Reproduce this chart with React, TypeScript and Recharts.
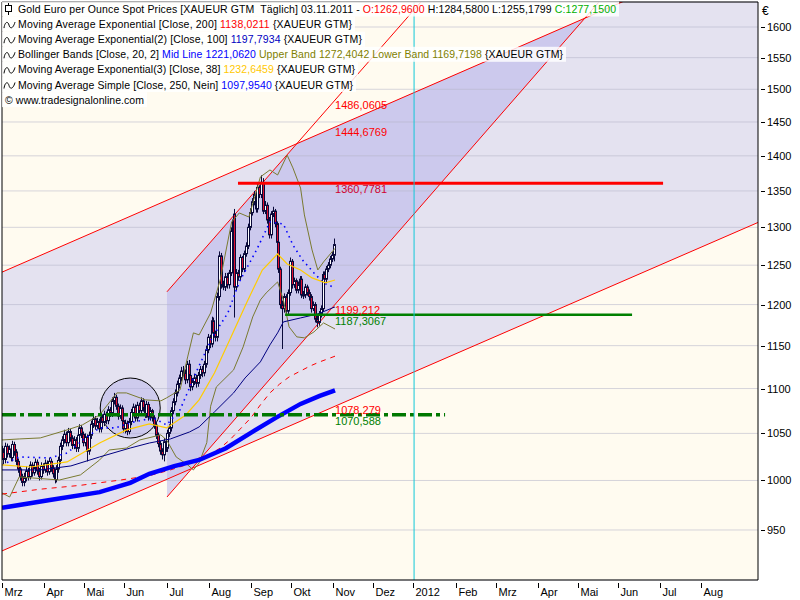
import React from 'react';
import {
  ComposedChart, Bar, Line, Area, XAxis, YAxis, CartesianGrid,
  ReferenceLine, ReferenceArea, ReferenceDot,
} from 'recharts';

// ---- daily candles (trading-day index 0 = 1 Mar 2011) ----
const opens = [
  1036,1030,1022,1036,1028,1033,1024,1038,1030,1020,
  1012,1004,998,1003,1010,1004,1016,1008,1013,1019,
  1010,1004,1015,1011,1018,1009,1020,1013,1007,1001,
  1012,1021,1036,1043,1049,1040,1052,1045,1037,1043,
  1034,1048,1056,1049,1040,1046,1031,1048,1060,1066,
  1058,1063,1055,1068,1062,1071,1064,1076,1072,1086,
  1090,1080,1069,1078,1064,1055,1061,1052,1063,1073,
  1079,1067,1081,1075,1086,1078,1071,1082,1068,1075,
  1067,1059,1048,1039,1031,1027,1041,1034,1050,1056,
  1075,1085,1095,1105,1112,1120,1118,1110,1128,1115,
  1102,1108,1112,1106,1115,1122,1118,1128,1145,1160,
  1152,1180,1165,1160,1210,1262,1225,1222,1235,1225,
  1240,1295,1318,1222,1240,1235,1260,1245,1265,1275,
  1300,1320,1335,1345,1325,1355,1345,1362,1322,1330,
  1310,1290,1318,1322,1305,1280,1245,1200,1195,1210,
  1192,1215,1255,1225,1230,1218,1225,1232,1212,1212,
  1222,1215,1210,1195,1200,1182,1178,1188,1195,1238,
  1232,1245,1250,1258,1263,
];
const highs = [
  1042,1034,1040,1039,1037,1036,1042,1041,1033,1023,
  1015,1007,1008,1015,1013,1020,1019,1017,1023,1022,
  1013,1019,1018,1022,1021,1024,1023,1016,1010,1016,
  1025,1040,1047,1054,1052,1056,1055,1048,1047,1046,
  1052,1060,1059,1052,1050,1049,1052,1064,1070,1069,
  1067,1066,1072,1071,1075,1074,1080,1079,1090,1095,
  1093,1083,1082,1081,1067,1065,1064,1067,1077,1083,
  1082,1085,1084,1090,1089,1081,1086,1085,1079,1077,
  1070,1062,1051,1042,1034,1045,1044,1054,1060,1079,
  1089,1099,1109,1116,1125,1126,1122,1132,1133,1119,
  1112,1117,1116,1119,1126,1126,1132,1150,1164,1163,
  1185,1184,1168,1215,1268,1266,1230,1240,1240,1244,
  1300,1316,1325,1245,1244,1264,1262,1269,1280,1305,
  1326,1340,1350,1350,1360,1358,1372,1368,1336,1334,
  1314,1322,1328,1325,1308,1283,1248,1205,1214,1213,
  1219,1260,1258,1234,1233,1229,1236,1236,1217,1226,
  1225,1219,1213,1204,1203,1186,1192,1199,1242,1242,
  1249,1254,1262,1267,1285,
];
const lows = [
  1025,1017,1018,1024,1024,1020,1020,1026,1016,1008,
  1000,994,994,999,1000,1001,1004,1005,1009,1006,
  1000,1001,1007,1008,1005,1006,1009,1003,997,998,
  1008,1017,1032,1039,1036,1036,1041,1033,1033,1030,
  1030,1044,1045,1036,1036,1020,1027,1044,1056,1054,
  1055,1051,1051,1058,1058,1060,1060,1068,1068,1082,
  1076,1065,1066,1060,1051,1050,1048,1049,1059,1069,
  1063,1063,1071,1071,1074,1067,1067,1064,1064,1063,
  1055,1044,1035,1027,1022,1020,1030,1030,1046,1052,
  1071,1081,1091,1100,1108,1114,1105,1106,1111,1097,
  1098,1104,1101,1102,1111,1113,1114,1124,1141,1147,
  1148,1160,1155,1155,1205,1220,1218,1217,1220,1220,
  1236,1290,1184,1218,1230,1231,1241,1241,1261,1271,
  1296,1316,1330,1320,1320,1340,1340,1318,1318,1305,
  1285,1285,1314,1300,1275,1240,1195,1146,1190,1188,
  1188,1211,1220,1221,1214,1214,1221,1208,1207,1208,
  1211,1205,1190,1192,1178,1172,1174,1184,1191,1228,
  1228,1241,1246,1254,1255,
];
const closes = [
  1030,1022,1036,1028,1033,1024,1038,1030,1020,1012,
  1004,998,1003,1010,1004,1016,1008,1013,1019,1010,
  1004,1015,1011,1018,1009,1020,1013,1007,1001,1012,
  1021,1036,1043,1049,1040,1052,1045,1037,1043,1034,
  1048,1056,1049,1040,1046,1031,1048,1060,1066,1058,
  1063,1055,1068,1062,1071,1064,1076,1072,1086,1090,
  1080,1069,1078,1064,1055,1061,1052,1063,1073,1079,
  1067,1081,1075,1086,1078,1071,1082,1068,1075,1067,
  1059,1048,1039,1031,1027,1041,1034,1050,1056,1075,
  1085,1095,1105,1112,1120,1118,1110,1128,1115,1102,
  1108,1112,1106,1115,1122,1118,1128,1145,1160,1152,
  1180,1165,1160,1210,1262,1225,1222,1235,1225,1240,
  1295,1310,1222,1240,1235,1260,1245,1265,1275,1300,
  1320,1335,1345,1325,1355,1345,1362,1322,1330,1310,
  1290,1318,1322,1305,1280,1245,1200,1195,1210,1192,
  1215,1255,1225,1230,1218,1225,1232,1212,1212,1222,
  1215,1210,1195,1200,1182,1178,1188,1195,1238,1232,
  1245,1250,1258,1263,1277,
];

// ---- axes ----
const monthTicks = [0, 22, 43, 64, 86, 108, 130, 151, 173, 194, 215, 237, 258, 280, 301, 322, 344, 365];
const monthLabels = ['Mrz', 'Apr', 'Mai', 'Jun', 'Jul', 'Aug', 'Sep', 'Okt', 'Nov', 'Dez', '2012', 'Feb', 'Mrz', 'Apr', 'Mai', 'Jun', 'Jul', 'Aug'];
const priceTicks = [950, 1000, 1050, 1100, 1150, 1200, 1250, 1300, 1350, 1400, 1450, 1500, 1550, 1600];
const dayDomain = [0, 395];
const priceDomain = [902, 1642];

// ---- indicators (sampled along the curve) ----
const sma250Days = [0, 25, 51, 67, 77, 90, 103, 117, 130, 143, 156, 166, 174];
const sma250Values = [972, 980, 988, 997.5, 1007, 1015, 1021.5, 1034, 1050.6, 1067, 1082.6, 1091.6, 1098];

const ema200Days = [0, 20, 41, 62, 77, 88, 98, 103, 109, 114, 119, 124, 130, 135, 140, 145, 150, 156, 161, 166, 174];
const ema200Values = [986, 991, 995, 1000.5, 1005, 1011, 1017.5, 1023.6, 1027.9, 1034.2, 1042.9, 1053.8, 1067, 1081.5, 1095, 1105, 1113.3, 1120.2, 1126, 1130.8, 1137.5];

const ema100Days = [0, 20, 36, 51, 67, 77, 88, 98, 103, 111, 121, 127, 135, 140, 144, 147, 156, 165, 174];
const ema100Values = [1011, 1011, 1015.2, 1024.7, 1034.2, 1039.6, 1044, 1051.6, 1057.1, 1073.6, 1095, 1112.1, 1130.8, 1150.9, 1165.3, 1178.6, 1183.5, 1188.4, 1197.1];

const ema38Days = [0, 15, 34, 51, 65, 77, 86, 96, 103, 111, 119, 128, 136, 144, 149, 156, 162, 169, 174];
const ema38Values = [1016.3, 1014.1, 1019.4, 1039.6, 1053.8, 1060.4, 1056, 1070.3, 1087.1, 1117.9, 1156.9, 1203.3, 1243.8, 1264.6, 1251.6, 1243.8, 1233.6, 1227.3, 1231];

const bbUpperDays = [0, 9, 20, 34, 42, 51, 60, 65, 75, 83, 86, 93, 97, 100, 103, 109, 114, 120, 124, 129, 135, 140, 144, 149, 152, 156, 158, 162, 165, 168, 174];
const bbUpperValues = [1042.9, 1044, 1045.1, 1053.8, 1059.3, 1070.3, 1095, 1095, 1087.1, 1086, 1089.4, 1098.4, 1136.6, 1165.3, 1162.9, 1189.6, 1231, 1307.3, 1319.5, 1314, 1369.7, 1379.7, 1372.5, 1401, 1382.6, 1354, 1316.8, 1269.9, 1243.8, 1254.2, 1272];

const bbLowerDays = [0, 4, 9, 16, 30, 41, 51, 56, 65, 72, 83, 86, 91, 97, 100, 103, 107, 109, 112, 121, 126, 131, 135, 138, 144, 147, 150, 154, 158, 163, 168, 174];
const bbLowerValues = [987.2, 983, 1003.7, 1002.6, 1000.5, 1005.8, 1021.5, 1032.1, 1034.2, 1042.9, 1048.4, 1042.9, 1024.7, 1016.3, 1011, 1018.4, 1040, 1080, 1101.8, 1121.4, 1148.5, 1184.7, 1205.8, 1214.5, 1228.5, 1205.8, 1172.6, 1160.5, 1159.3, 1166.5, 1177.4, 1170];

const bbMidDays = [0, 9, 25, 34, 41, 51, 59, 69, 79, 86, 93, 102, 110, 118, 124, 133, 140, 147, 152, 157, 163, 168, 174];
const bbMidValues = [1016.3, 1024.7, 1023.6, 1028.9, 1040.7, 1056, 1056, 1062.6, 1067, 1059.3, 1075.9, 1121.4, 1160.5, 1189.6, 1228.5, 1269.9, 1307.3, 1304.5, 1276.5, 1256.8, 1240, 1227.3, 1221];

// ---- drawn trend channels ----
const upperTrendDays = [0, 395];
const upperTrendValues = [1241, 1746];
const lowerTrendDays = [0, 395];
const lowerTrendValues = [929.6, 1306.6];
const steepLeftDays = [86.2, 218.9];
const steepLeftValues = [1216, 1642];
const steepRightDays = [86.2, 311.9];
const steepRightValues = [983, 1642];
const steepZoneDays = [86.2, 154.2, 304.6];
const steepZoneLow = [983, 1147.4, 1615];
const steepZoneHigh = [1216, 1418.2, 1615];

// ---- horizontal levels ----
const resistanceLevel = 1360.7781;
const resistanceDays = [123.3, 345.4];
const supportLevel = 1187.3067;
const supportDays = [147.9, 329.2];
const baseLevel = 1070.588;
const baseDays = [0, 231.5];
const yearLineDay = 215.3;
const circleDay = 67;
const circleValue = 1078;

const levelLabelTexts = ['1486,0605', '1444,6769', '1360,7781', '1199,212', '1187,3067', '1078,279', '1070,588'];
const levelLabelValues = [1475.8, 1435, 1352.8, 1192.7, 1179.2, 1075.9, 1063.6];
const levelLabelColors = ['#FF0000', '#FF0000', '#D00030', '#FF0000', '#008000', '#FF0000', '#008000'];
const levelLabelDay = 174;

// ---- legend text ----
const legendRows = [
  [['Gold Euro per Ounce Spot Prices [XAUEUR GTM  Täglich] 03.11.2011 - ', '#000'], ['O:1262,9600', '#FF0000'], [' H:1284,5800 L:1255,1799 ', '#000'], ['C:1277,1500', '#00B000']],
  [['Moving Average Exponential [Close, 200] ', '#000'], ['1138,0211', '#FF0000'], [' {XAUEUR GTM}', '#000']],
  [['Moving Average Exponential(2) [Close, 100] ', '#000'], ['1197,7934', '#0000C0'], [' {XAUEUR GTM}', '#000']],
  [['Bollinger Bands [Close, 20, 2] ', '#000'], ['Mid Line 1221,0620', '#0000FF'], [' Upper Band 1272,4042 Lower Band 1169,7198', '#808000'], [' {XAUEUR GTM}', '#000']],
  [['Moving Average Exponential(3) [Close, 38] ', '#000'], ['1232,6459', '#FFC800'], [' {XAUEUR GTM}', '#000']],
  [['Moving Average Simple [Close, 250, Nein] ', '#000'], ['1097,9540', '#0000FF'], [' {XAUEUR GTM}', '#000']],
  [['© www.tradesignalonline.com', '#000']],
];
const legendIcons = ['candle', 'wave', 'wave', 'wave', 'wave', 'wave', 'none'];
const legendTextStart = [18, 18, 18, 18, 18, 18, 5];
const legendTextEnd = [616, 352, 362, 563, 355, 353, 144];

const candleData = closes.map((c, i) => ({ t: i, open: opens[i], high: highs[i], low: lows[i], close: c }));
const series = (days: number[], values: number[]) => days.map((t, i) => ({ t, v: values[i] }));
const rangeSeries = (days: number[], lo: number[], hi: number[]) => days.map((t, i) => ({ t, r: [lo[i], hi[i]] }));

const FONT = "'Liberation Sans', Arial, sans-serif";

const Candle = (props: any) => {
  const { x, y, width, height, payload } = props;
  if (x == null || y == null || !payload) return null;
  const cx = x + width / 2;
  const top = Math.min(y, y + height);
  const bottom = Math.max(y, y + height);
  const lh = Math.log(payload.high);
  const ll = Math.log(payload.low);
  const span = lh - ll || 1;
  const py = (v: number) => top + ((bottom - top) * (lh - Math.log(v))) / span;
  const yo = py(payload.open);
  const yc = py(payload.close);
  const up = payload.close >= payload.open;
  const p = Math.floor(cx - 1.5);
  const bt = Math.min(yo, yc);
  const bb = Math.max(yo, yc);
  return (
    <g>
      <line x1={p + 1.5} x2={p + 1.5} y1={top} y2={bottom} stroke="#0A0A3A" strokeWidth={1} />
      <rect x={p + 0.5} y={bt} width={2} height={Math.max(bb - bt, 1)} fill={up ? '#FFFFFF' : '#E0102F'} stroke="#0A0A3A" strokeWidth={1} />
    </g>
  );
};

const MonthTick = (props: any) => {
  const { x, y, payload } = props;
  const i = monthTicks.indexOf(payload.value);
  const px = Math.round(x) + 0.5;
  return (
    <g>
      <line x1={px} x2={px} y1={y + 3} y2={y + 8} stroke="#000" strokeWidth={1} />
      <text x={px + 2} y={y + 16} fontSize={11} fill="#000" fontFamily={FONT}>{monthLabels[i]}</text>
    </g>
  );
};

const PriceTick = (props: any) => {
  const { x, y, payload } = props;
  const py = Math.round(y) + 0.5;
  return (
    <g>
      <line x1={x + 3} x2={x + 7} y1={py} y2={py} stroke="#000" strokeWidth={1} />
      <text x={x + 9} y={y + 4} fontSize={11} fill="#000" fontFamily={FONT}>{payload.value}</text>
    </g>
  );
};

const LegendIcon = ({ kind, cy }: { kind: string; cy: number }) => {
  if (kind === 'candle') {
    return (
      <g>
        <line x1={8.5} x2={8.5} y1={cy - 6} y2={cy + 6} stroke="#000" />
        <rect x={5.5} y={cy - 3.5} width={6} height={6} fill="#fff" stroke="#000" />
      </g>
    );
  }
  if (kind === 'wave') {
    return (
      <path
        d={`M4 ${cy + 4} C5 ${cy - 3} 8 ${cy - 3} 9 ${cy + 1} C10 ${cy + 5} 13 ${cy + 5} 15 ${cy - 2}`}
        fill="none"
        stroke="#000"
        strokeWidth={1}
      />
    );
  }
  return null;
};

export default function App() {
  return (
    <div style={{ position: 'absolute', left: 0, top: 0, width: 800, height: 600, background: '#fff', fontFamily: FONT }}>
      <ComposedChart
        width={800}
        height={600}
        data={candleData}
        margin={{ top: 2, right: 0, bottom: 0, left: 2 }}
      >
        <XAxis
          dataKey="t"
          type="number"
          domain={dayDomain}
          allowDataOverflow
          ticks={monthTicks}
          interval={0}
          tick={<MonthTick />}
          tickSize={0}
          tickMargin={0}
          tickLine={false}
          axisLine={false}
          height={20}
        />
        <YAxis
          orientation="right"
          type="number"
          scale="log"
          domain={priceDomain}
          allowDataOverflow
          ticks={priceTicks}
          interval={0}
          tick={<PriceTick />}
          tickSize={0}
          tickMargin={0}
          tickLine={false}
          axisLine={false}
          width={42}
          label={{ value: '€', position: 'insideTopLeft', offset: 4, fontSize: 12, fill: '#000' }}
        />

        <ReferenceArea x1={dayDomain[0]} x2={dayDomain[1]} y1={priceDomain[0]} y2={priceDomain[1]} fill="#FFFBF0" fillOpacity={1} stroke="none" zIndex={-300} />

        <Area
          data={rangeSeries(upperTrendDays, lowerTrendValues, upperTrendValues)}
          dataKey="r"
          type="linear"
          fill="#E4E2F0"
          fillOpacity={1}
          stroke="none"
          dot={false}
          activeDot={false}
          isAnimationActive={false}
          zIndex={-250}
        />
        <Area
          data={rangeSeries(steepZoneDays, steepZoneLow, steepZoneHigh)}
          dataKey="r"
          type="linear"
          fill="#B4B0EA"
          fillOpacity={0.5}
          stroke="none"
          dot={false}
          activeDot={false}
          isAnimationActive={false}
          zIndex={-240}
        />

        <CartesianGrid vertical={false} stroke="#B4B4C8" strokeOpacity={0.55} zIndex={-200} />

        <ReferenceDot x={circleDay} y={circleValue} r={30} fill="#B4B0E8" fillOpacity={0.45} stroke="#000" strokeWidth={1} zIndex={-190} />

        <ReferenceLine segment={[{ x: upperTrendDays[0], y: upperTrendValues[0] }, { x: upperTrendDays[1], y: upperTrendValues[1] }]} stroke="#FF0000" strokeWidth={1} ifOverflow="hidden" zIndex={-180} />
        <ReferenceLine segment={[{ x: lowerTrendDays[0], y: lowerTrendValues[0] }, { x: lowerTrendDays[1], y: lowerTrendValues[1] }]} stroke="#FF0000" strokeWidth={1} ifOverflow="hidden" zIndex={-180} />
        <ReferenceLine segment={[{ x: steepLeftDays[0], y: steepLeftValues[0] }, { x: steepLeftDays[1], y: steepLeftValues[1] }]} stroke="#FF0000" strokeWidth={1} ifOverflow="hidden" zIndex={-180} />
        <ReferenceLine segment={[{ x: steepRightDays[0], y: steepRightValues[0] }, { x: steepRightDays[1], y: steepRightValues[1] }]} stroke="#FF0000" strokeWidth={1} ifOverflow="hidden" zIndex={-180} />

        <Bar dataKey={(d: any) => [d.low, d.high]} barSize={3} shape={<Candle />} isAnimationActive={false} zIndex={300} />

        <Line data={series(bbUpperDays, bbUpperValues)} dataKey="v" type="linear" stroke="#7A7A30" strokeWidth={1} dot={false} activeDot={false} isAnimationActive={false} zIndex={400} />
        <Line data={series(bbLowerDays, bbLowerValues)} dataKey="v" type="linear" stroke="#7A7A30" strokeWidth={1} dot={false} activeDot={false} isAnimationActive={false} zIndex={400} />
        <Line data={series(bbMidDays, bbMidValues)} dataKey="v" type="linear" stroke="#0000FF" strokeWidth={1.6} strokeDasharray="1.5 4" dot={false} activeDot={false} isAnimationActive={false} zIndex={400} />
        <Line data={series(ema100Days, ema100Values)} dataKey="v" type="linear" stroke="#000080" strokeWidth={1} dot={false} activeDot={false} isAnimationActive={false} zIndex={400} />
        <Line data={series(ema38Days, ema38Values)} dataKey="v" type="linear" stroke="#FFCC00" strokeWidth={1.2} dot={false} activeDot={false} isAnimationActive={false} zIndex={400} />
        <Line data={series(ema200Days, ema200Values)} dataKey="v" type="linear" stroke="#FF0000" strokeWidth={1} strokeDasharray="5 5" dot={false} activeDot={false} isAnimationActive={false} zIndex={400} />
        <Line data={series(sma250Days, sma250Values)} dataKey="v" type="linear" stroke="#0000FF" strokeWidth={4.5} dot={false} activeDot={false} isAnimationActive={false} zIndex={400} />

        <ReferenceLine segment={[{ x: baseDays[0], y: baseLevel }, { x: baseDays[1], y: baseLevel }]} stroke="#007800" strokeWidth={3.5} strokeDasharray="14 4 4 4" ifOverflow="hidden" zIndex={500} />
        <ReferenceLine segment={[{ x: resistanceDays[0], y: resistanceLevel }, { x: resistanceDays[1], y: resistanceLevel }]} stroke="#FF0000" strokeWidth={3} ifOverflow="hidden" zIndex={500} />
        <ReferenceLine segment={[{ x: supportDays[0], y: supportLevel }, { x: supportDays[1], y: supportLevel }]} stroke="#008000" strokeWidth={2.5} ifOverflow="hidden" zIndex={500} />
        <ReferenceLine x={yearLineDay} stroke="#10C8D8" strokeWidth={1} zIndex={510} />

        {levelLabelTexts.map((txt, i) => (
          <ReferenceDot
            key={txt}
            x={levelLabelDay}
            y={levelLabelValues[i]}
            r={0}
            fill="none"
            stroke="none"
            zIndex={600}
            label={{ value: txt, position: 'right', offset: 0, fill: levelLabelColors[i], fontSize: 11 }}
          />
        ))}

        <ReferenceArea x1={dayDomain[0]} x2={dayDomain[1]} y1={priceDomain[0]} y2={priceDomain[1]} fill="none" stroke="#000" strokeWidth={1} zIndex={700} />
      </ComposedChart>

      <svg width={800} height={112} style={{ position: 'absolute', left: 0, top: 0, pointerEvents: 'none' }}>
        {legendRows.map((row, i) => {
          const cy = 9 + i * 15.1;
          const start = legendTextStart[i];
          const end = legendTextEnd[i];
          return (
            <g key={i}>
              <rect x={2} y={cy - 7.5} width={end - 2 + 3} height={15} fill="#FFFFFF" fillOpacity={0.82} />
              <LegendIcon kind={legendIcons[i]} cy={cy} />
              <text
                x={start}
                y={cy + 4}
                fontSize={10.5}
                fontFamily={FONT}
                textLength={end - start}
                lengthAdjust="spacing"
                xmlSpace="preserve"
              >
                {row.map((seg, j) => (
                  <tspan key={j} fill={seg[1]}>{seg[0]}</tspan>
                ))}
              </text>
            </g>
          );
        })}
      </svg>
    </div>
  );
}
